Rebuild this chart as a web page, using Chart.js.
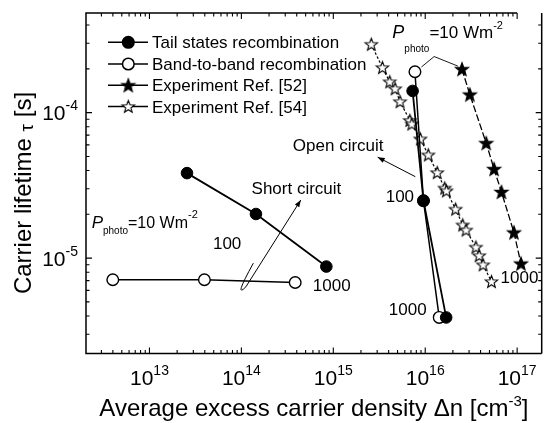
<!DOCTYPE html>
<html><head><meta charset="utf-8">
<script src="https://cdn.jsdelivr.net/npm/chart.js@4"></script>
<style>html,body{margin:0;padding:0;background:#fff}#wrap{width:550px;height:423px;position:relative}</style>
</head><body><div id="wrap"><canvas id="c"></canvas></div>
<script>
// ---- data ----
const tailShortN   = [2.56e13, 1.44e14, 8.4e14];
const tailShortTau = [3.84e-5, 2.01e-5, 8.75e-6];
const tailOpenN    = [7.29e15, 9.57e15, 1.69e16];
const tailOpenTau  = [1.41e-4, 2.48e-5, 3.91e-6];
const bandShortN   = [3.99e12, 3.96e13, 3.85e14];
const bandShortTau = [7.1e-6, 7.1e-6, 6.8e-6];
const bandOpenN    = [7.73e15, 9.57e15, 1.42e16];
const bandOpenTau  = [1.91e-4, 2.48e-5, 3.91e-6];
const exp52N   = [2.51e16, 3.06e16, 4.61e16, 5.61e16, 6.75e16, 9.23e16, 1.10e17];
const exp52Tau = [1.99e-4, 1.33e-4, 6.17e-5, 4.09e-5, 2.85e-5, 1.50e-5, 9.17e-6];
const exp54N   = [2.59e15, 3.42e15, 4.11e15, 4.70e15, 5.32e15, 6.80e15, 7.14e15, 8.85e15, 1.08e16, 1.35e16, 1.63e16, 1.70e16, 2.14e16, 2.56e16, 2.78e16, 3.56e16, 3.86e16, 4.26e16, 5.26e16];
const exp54Tau = [2.95e-4, 2.04e-4, 1.63e-4, 1.46e-4, 1.19e-4, 8.84e-5, 8.36e-5, 6.60e-5, 5.12e-5, 3.87e-5, 3.03e-5, 2.90e-5, 2.17e-5, 1.69e-5, 1.56e-5, 1.19e-5, 1.04e-5, 9.0e-6, 6.9e-6];
const legendLabels = ['Tail states recombination', 'Band-to-band recombination', 'Experiment Ref. [52]', 'Experiment Ref. [54]'];
const xExponents = [13, 14, 15, 16, 17];
const yExponents = [-5, -4];
const xRange = [2.04e12, 1.85e17];
const yRange = [2.21e-6, 4.84e-4];

// ---- helpers ----
const FONT = '"Liberation Sans", Arial, Helvetica, sans-serif';
const zip = (a, b) => a.map((v, i) => ({x: v, y: b[i]}));
function starImg(R, filled) {
  const s = Math.ceil(2 * R + 4), c = document.createElement('canvas');
  c.width = s; c.height = s;
  const g = c.getContext('2d'), cx = s / 2, cy = s / 2 + 0.5, r = R * 0.42;
  g.beginPath();
  for (let i = 0; i < 10; i++) {
    const a = -Math.PI / 2 + i * Math.PI / 5, rr = i % 2 ? r : R;
    g.lineTo(cx + rr * Math.cos(a), cy + rr * Math.sin(a));
  }
  g.closePath();
  g.fillStyle = filled ? '#000' : '#fff'; g.fill();
  g.lineWidth = 1.1; g.strokeStyle = '#000'; g.stroke();
  return c;
}
const starFilled = starImg(7, true);
const starOpen = starImg(6.5, false);

function rich(ctx, parts, x, y, align) {
  let w = 0;
  const ws = parts.map(p => { ctx.font = (p.it ? 'italic ' : '') + p.s + 'px ' + FONT; const m = ctx.measureText(p.t).width; w += m; return m; });
  let cx = align === 'center' ? x - w / 2 : align === 'right' ? x - w : x;
  ctx.textAlign = 'left'; ctx.textBaseline = 'alphabetic'; ctx.fillStyle = '#000';
  parts.forEach((p, i) => { ctx.font = (p.it ? 'italic ' : '') + p.s + 'px ' + FONT; ctx.fillText(p.t, cx, y + (p.dy || 0)); cx += ws[i]; });
}
function arrowHead(ctx, fx, fy, tx, ty, len, wid) {
  const a = Math.atan2(ty - fy, tx - fx);
  ctx.beginPath();
  ctx.moveTo(tx, ty);
  ctx.lineTo(tx - len * Math.cos(a) + wid * Math.sin(a), ty - len * Math.sin(a) - wid * Math.cos(a));
  ctx.lineTo(tx - len * Math.cos(a) - wid * Math.sin(a), ty - len * Math.sin(a) + wid * Math.cos(a));
  ctx.closePath(); ctx.fill();
}

// annotation anchors in data coordinates
const notes = [
  {x: 7.0e13, y: 1.27e-5, t: '100'},
  {x: 9.6e14, y: 6.49e-6, t: '1000'},
  {x: 5.3e15, y: 2.68e-5, t: '100'},
  {x: 6.46e15, y: 4.49e-6, t: '1000'},
  {x: 1.06e17, y: 7.44e-6, t: '1000'},
  {x: 1.13e15, y: 6.0e-5, t: 'Open circuit'},
  {x: 3.97e14, y: 3.05e-5, t: 'Short circuit'}
];

const overlay = {
  id: 'overlay',
  afterDraw(chart) {
    const ctx = chart.ctx, xs = chart.scales.x, ys = chart.scales.y, A = chart.chartArea;
    const X = v => xs.getPixelForValue(v), Y = v => ys.getPixelForValue(v);
    ctx.save();
    ctx.strokeStyle = '#000'; ctx.fillStyle = '#000';
    // frame (top line stops at the last decade, as in the source figure)
    ctx.lineWidth = 1.5;
    ctx.beginPath();
    ctx.moveTo(X(1e17), A.top); ctx.lineTo(A.left, A.top); ctx.lineTo(A.left, A.bottom); ctx.lineTo(A.right, A.bottom);
    ctx.moveTo(A.right, A.top); ctx.lineTo(A.right, A.bottom);
    ctx.stroke();
    // ticks
    ctx.lineWidth = 1.1;
    ctx.beginPath();
    for (let e = 12; e <= 17; e++) for (let m = 1; m <= 9; m++) {
      const v = m * Math.pow(10, e);
      if (v < xRange[0] || v > xRange[1]) continue;
      const p = X(v), L = m === 1 ? 6 : 3.5;
      ctx.moveTo(p, A.bottom); ctx.lineTo(p, A.bottom - L);
      if (v <= 1e17) { ctx.moveTo(p, A.top); ctx.lineTo(p, A.top + L); }
    }
    for (let e = -6; e <= -3; e++) for (let m = 1; m <= 9; m++) {
      const v = m * Math.pow(10, e);
      if (v < yRange[0] || v > yRange[1]) continue;
      const p = Y(v), L = m === 1 ? 6 : 3.5;
      ctx.moveTo(A.left, p); ctx.lineTo(A.left + L, p);
      ctx.moveTo(A.right, p); ctx.lineTo(A.right - L, p);
    }
    ctx.stroke();
    // tick labels
    xExponents.forEach(e => rich(ctx, [{t: '10', s: 21}, {t: String(e), s: 14, dy: -10.5}], X(Math.pow(10, e)), A.bottom + 31.5, 'center'));
    yExponents.forEach(e => rich(ctx, [{t: '10', s: 21}, {t: String(e), s: 14, dy: -10}], A.left - 8, Y(Math.pow(10, e)) + 7.5, 'right'));
    // axis titles
    rich(ctx, [{t: 'Average excess carrier density \u0394n [cm', s: 24}, {t: '-3', s: 15, dy: -10}, {t: ']', s: 24}], (A.left + A.right) / 2, 416, 'center');
    ctx.save(); ctx.translate(31, 193); ctx.rotate(-Math.PI / 2);
    rich(ctx, [{t: 'Carrier lifetime ', s: 24}, {t: '\u03c4', s: 19, dy: 2}, {t: ' [s]', s: 24}], 0, 0, 'center');
    ctx.restore();
    // legend
    const lx0 = A.left + 22, lx1 = A.left + 62, lxm = A.left + 42.3, ltx = A.left + 66;
    const rows = [42.3, 64, 85.3, 106.5];
    ctx.lineWidth = 1.5;
    rows.forEach((ry, i) => {
      ctx.beginPath(); ctx.moveTo(lx0, ry); ctx.lineTo(lx1, ry); ctx.stroke();
      if (i < 2) {
        ctx.beginPath(); ctx.arc(lxm, ry, 5.8, 0, Math.PI * 2);
        ctx.fillStyle = i === 0 ? '#000' : '#fff'; ctx.fill(); ctx.stroke(); ctx.fillStyle = '#000';
      } else {
        const im = i === 2 ? starFilled : starOpen;
        ctx.drawImage(im, lxm - im.width / 2, ry - im.height / 2);
      }
      rich(ctx, [{t: legendLabels[i], s: 17}], ltx, ry + 6, 'left');
    });
    // text notes
    notes.forEach(n => rich(ctx, [{t: n.t, s: 17}], X(n.x), Y(n.y) + 6, 'center'));
    // P_photo labels
    rich(ctx, [{t: 'P', s: 18, it: true}, {t: 'photo', s: 10, dy: 14}, {t: '=10 Wm', s: 17}, {t: '-2', s: 11, dy: -9}], X(4.39e15), Y(3.26e-4), 'left');
    rich(ctx, [{t: 'P', s: 17, it: true}, {t: 'photo', s: 10, dy: 6}, {t: '=10 Wm', s: 16}, {t: '-2', s: 11, dy: -10}], X(2.35e12), Y(1.61e-5), 'left');
    // leader line to upper P_photo
    ctx.lineWidth = 0.9;
    ctx.beginPath();
    ctx.moveTo(X(9.1e15), Y(2.06e-4)); ctx.lineTo(X(1.25e16), Y(2.43e-4)); ctx.lineTo(X(2.26e16), Y(2.09e-4));
    ctx.stroke();
    // open circuit arrow
    ctx.lineWidth = 1;
    const o1 = [X(7.8e15), Y(3.63e-5)], o2 = [X(3.04e15), Y(4.94e-5)];
    ctx.beginPath(); ctx.moveTo(o1[0], o1[1]); ctx.lineTo(o2[0], o2[1]); ctx.stroke();
    arrowHead(ctx, o1[0], o1[1], o2[0], o2[1], 7, 2.6);
    // short circuit looping arrow
    const sS = [X(1.35e14), Y(9.24e-6)], sC = [X(8.13e13), Y(5.17e-6)], sB = [X(1.12e14), Y(6.35e-6)], sT = [X(4.43e14), Y(2.51e-5)];
    ctx.beginPath(); ctx.moveTo(sS[0], sS[1]); ctx.quadraticCurveTo(sC[0], sC[1], sB[0], sB[1]); ctx.lineTo(sT[0], sT[1]); ctx.stroke();
    arrowHead(ctx, sB[0], sB[1], sT[0], sT[1], 7, 2.6);
    ctx.restore();
  }
};

const circleBase = {showLine: true, borderColor: '#000', pointStyle: 'circle', pointRadius: 5.8, pointHoverRadius: 5.8, pointBorderColor: '#000', tension: 0, fill: false};
new Chart(document.getElementById('c'), {
  type: 'scatter',
  data: {
    datasets: [
      Object.assign({}, circleBase, {label: legendLabels[0], data: zip(tailShortN, tailShortTau), borderWidth: 1.8, pointBackgroundColor: '#000', pointBorderWidth: 1}),
      Object.assign({}, circleBase, {label: legendLabels[0], data: zip(tailOpenN, tailOpenTau), borderWidth: 1.8, pointBackgroundColor: '#000', pointBorderWidth: 1}),
      Object.assign({}, circleBase, {label: legendLabels[1], data: zip(bandShortN, bandShortTau), borderWidth: 1.5, pointBackgroundColor: '#fff', pointBorderWidth: 1.4}),
      Object.assign({}, circleBase, {label: legendLabels[1], data: zip(bandOpenN, bandOpenTau), borderWidth: 1.5, pointBackgroundColor: '#fff', pointBorderWidth: 1.4}),
      {label: legendLabels[2], data: zip(exp52N, exp52Tau), showLine: true, borderColor: '#000', borderWidth: 1.3, borderDash: [7, 2.5], pointStyle: starFilled, pointRadius: 7, tension: 0},
      {label: legendLabels[3], data: zip(exp54N, exp54Tau), showLine: true, borderColor: '#000', borderWidth: 1.2, borderDash: [2.5, 2], pointStyle: starOpen, pointRadius: 7, tension: 0}
    ]
  },
  options: {
    responsive: true, maintainAspectRatio: false, animation: false,
    layout: {padding: {left: 86, top: 13, right: 0, bottom: 69.5}},
    scales: {
      x: {type: 'logarithmic', min: xRange[0], max: xRange[1], display: false},
      y: {type: 'logarithmic', min: yRange[0], max: yRange[1], display: false}
    },
    plugins: {legend: {display: false}, tooltip: {enabled: false}},
    elements: {line: {borderCapStyle: 'butt'}}
  },
  plugins: [overlay]
});
</script>
</body></html>
